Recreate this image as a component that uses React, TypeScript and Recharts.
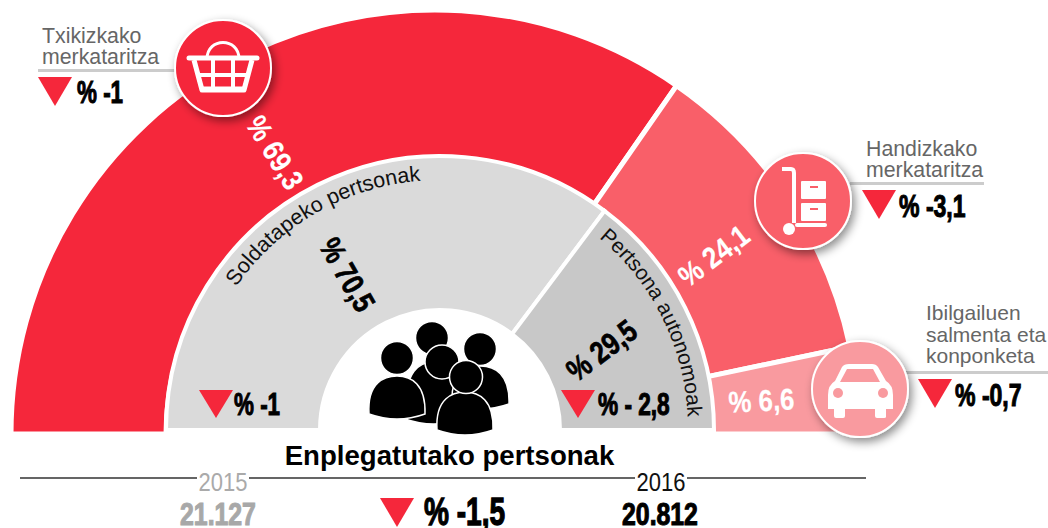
import { PieChart, Pie, Cell } from 'recharts';

const sectors = ['Txikizkako merkataritza', 'Handizkako merkataritza', 'Ibilgailuen salmenta eta konponketa'];
const sectorShares = [69.3, 24.1, 6.6];
const sectorColors = ['#f5273b', '#f95f69', '#f99a9f'];

const workers = ['Soldatapeko pertsonak', 'Pertsona autonomoak'];
const workerShares = [70.5, 29.5];
const workerColors = ['#dadada', '#c8c8c8'];

const outerData = sectors.map((name, i) => ({ name, value: sectorShares[i] }));
const innerData = workers.map((name, i) => ({ name, value: workerShares[i] }));

const SANS = '"Liberation Sans", Arial, sans-serif';
const RED = '#f5273b';

const pct = (v: number) => `% ${v.toString().replace('.', ',')}`;

// condensed heavy figures, the original uses an Impact-like face
function Figure({ x, y, text, size = 32, angle = 0, fill = '#000', anchor = 'start', sx = 0.72, weight = 1.1, bold = true }: any) {
  return (
    <text
      transform={`translate(${x} ${y}) rotate(${angle}) scale(${sx} 1)`}
      fontFamily={SANS}
      fontWeight={bold ? 700 : 400}
      fontSize={size}
      fill={fill}
      stroke={fill}
      strokeWidth={weight}
      textAnchor={anchor}
    >
      {text}
    </text>
  );
}

function Down({ x, y, w = 34, h = 29 }: any) {
  return <polygon points={`${x},${y} ${x + w},${y} ${x + w / 2},${y + h}`} fill={RED} />;
}

function Caption({ x, lines, y, step = 21.5, size = 21.3 }: any) {
  return (
    <text fontFamily={SANS} fontSize={size} fill="#666">
      {lines.map((l: string, i: number) => (
        <tspan key={l} x={x} y={y + i * step}>
          {l}
        </tspan>
      ))}
    </text>
  );
}

function Badge({ x, y, fill, children }: any) {
  return (
    <g>
      <circle cx={x} cy={y} r={48} fill={fill} stroke="#fff" strokeWidth={2} filter="url(#shadow)" />
      <g transform={`translate(${x} ${y})`}>{children}</g>
    </g>
  );
}

function Basket() {
  return (
    <g fill="none" stroke="#fff">
      <path d="M-16 -9 C-16 -31 16 -31 16 -9" strokeWidth={3} />
      <path d="M-34 -10 H34" strokeWidth={5} strokeLinecap="round" />
      <path d="M-29 -8 L-21 22 H21 L29 -8" strokeWidth={5} strokeLinejoin="round" fill="none" />
      <path d="M-26 7 H26 M-10 -8 V22 M10 -8 V22" strokeWidth={4} />
      <path d="M-21 21 H21" strokeWidth={5} />
    </g>
  );
}

function Dolly() {
  return (
    <g fill="#fff">
      <path d="M-21 -32 H-12 Q-9 -32 -9 -28 V22" fill="none" stroke="#fff" strokeWidth={4} />
      <circle cx={-14} cy={28} r={6} />
      <rect x={-8} y={22} width={32} height={4} rx={2} />
      <rect x={-2} y={-20} width={25} height={18} rx={1} />
      <rect x={-2} y={2} width={25} height={18} rx={1} />
      <rect x={7} y={-15} width={8} height={2} fill="#f95f69" />
      <rect x={7} y={7} width={8} height={2} fill="#f95f69" />
    </g>
  );
}

function Car() {
  return (
    <g>
      <path
        d="M-32 20 V6 Q-32 -4 -25 -8 L-18 -22 Q-16 -25 -11 -25 H12 Q16 -25 18 -22 L26 -8 Q33 -4 33 6 V20 H26 V28 Q26 29 24 29 H17 Q15 29 15 27 V20 H-15 V27 Q-15 29 -17 29 H-24 Q-26 29 -26 27 V20 Z"
        fill="#fff"
      />
      <path d="M-20 -7 L-13 -20 H13 L20 -7 Z" fill="#f99a9f" />
      <circle cx={-22} cy={4} r={5} fill="#f99a9f" />
      <circle cx={23} cy={4} r={5} fill="#f99a9f" />
    </g>
  );
}

function Person({ hx, hy, x0, x1, top, bottom }: any) {
  const mid = (x0 + x1) / 2;
  return (
    <g fill="#000" stroke="#fff" strokeWidth={1.5}>
      <path
        d={`M${x0} ${bottom - 6} C${x0 - 2} ${top + 6} ${mid - 12} ${top} ${mid} ${top} C${mid + 14} ${top} ${x1 + 1} ${top + 8} ${x1} ${bottom - 6} Q${mid} ${bottom + 4} ${x0} ${bottom - 6} Z`}
      />
      <circle cx={hx} cy={hy} r={16.5} />
    </g>
  );
}

export default function App() {
  return (
    <div style={{ position: 'absolute', left: 0, top: 0, width: 1048, height: 528, overflow: 'hidden', background: '#fff' }}>
      <PieChart width={1048} height={528} margin={{ top: 0, right: 0, bottom: 0, left: 0 }}>
        <Pie
          data={outerData}
          dataKey="value"
          cx={435}
          cy={434}
          startAngle={180}
          endAngle={0}
          innerRadius={269}
          outerRadius={424}
          stroke="#fff"
          strokeWidth={5}
          isAnimationActive={false}
        >
          {outerData.map((d, i) => (
            <Cell key={d.name} fill={sectorColors[i]} />
          ))}
        </Pie>
        <Pie
          data={innerData}
          dataKey="value"
          cx={440}
          cy={430}
          startAngle={180}
          endAngle={0}
          innerRadius={120}
          outerRadius={274}
          stroke="#fff"
          strokeWidth={4}
          isAnimationActive={false}
        >
          {innerData.map((d, i) => (
            <Cell key={d.name} fill={workerColors[i]} />
          ))}
        </Pie>
      </PieChart>

      <svg width={1048} height={528} style={{ position: 'absolute', left: 0, top: 0 }}>
        <defs>
          <filter id="shadow" x="-30%" y="-30%" width="170%" height="170%">
            <feDropShadow dx={3} dy={4} stdDeviation={5} floodColor="#000" floodOpacity={0.45} />
          </filter>
          <path id="arcLeft" d="M192 428 A248 248 0 0 1 688 428" fill="none" />
        </defs>

        {/* leader rules under the captions */}
        <rect x={38} y={69} width={140} height={3} fill="#ccc" />
        <rect x={850} y={182} width={134} height={3} fill="#ccc" />
        <rect x={900} y={371} width={148} height={3} fill="#ccc" />

        <Caption x={42} y={43} lines={['Txikizkako', 'merkataritza']} step={21} />
        <Caption x={866} y={156} lines={['Handizkako', 'merkataritza']} step={21} />
        <Caption x={926} y={320} lines={['Ibilgailuen', 'salmenta eta', 'konponketa']} size={21} />

        <Badge x={223} y={68} fill={sectorColors[0]}><Basket /></Badge>
        <Badge x={803} y={201} fill={sectorColors[1]}><Dolly /></Badge>
        <Badge x={860} y={389} fill={sectorColors[2]}><Car /></Badge>

        <Down x={38} y={77} />
        <Figure x={77} y={103} text="% -1" sx={0.7} />
        <Down x={862} y={190} />
        <Figure x={899} y={217} text="% -3,1" />
        <Down x={918} y={379} />
        <Figure x={955} y={406} text="% -0,7" />

        <Figure x={266} y={158} text={pct(sectorShares[0])} size={30} angle={58} fill="#fff" anchor="middle" sx={0.86} weight={0.2} />
        <Figure x={720} y={264} text={pct(sectorShares[1])} size={30} angle={-37} fill="#fff" anchor="middle" sx={0.86} weight={0.2} />
        <Figure x={762} y={411} text={pct(sectorShares[2])} size={30} angle={-3} fill="#fff" anchor="middle" sx={0.86} weight={0.2} />
        <Figure x={338} y={280} text={pct(workerShares[0])} size={31} angle={60} anchor="middle" sx={0.82} weight={0.7} />
        <Figure x={608} y={359} text={pct(workerShares[1])} size={31} angle={-37} anchor="middle" sx={0.82} weight={0.7} />

        <text fontFamily={SANS} fontSize={21.5} fill="#111">
          <textPath href="#arcLeft" startOffset={150}>{workers[0]}</textPath>
        </text>
        <text fontFamily={SANS} fontSize={21} fill="#111">
          <textPath href="#arcLeft" startOffset={562}>{workers[1]}</textPath>
        </text>

        <Down x={199} y={390} h={28} />
        <Figure x={234} y={415} text="% -1" sx={0.7} />
        <Down x={561} y={390} h={28} />
        <Figure x={598} y={415} text="% - 2,8" size={31} sx={0.73} />

        <Person hx={432} hy={338} x0={405} x1={462} top={362} bottom={425} />
        <Person hx={480} hy={349} x0={452} x1={509} top={366} bottom={410} />
        <Person hx={397} hy={358} x0={369} x1={425} top={376} bottom={420} />
        <circle cx={442} cy={362} r={17} fill="#000" stroke="#fff" strokeWidth={1.5} />
        <Person hx={466} hy={377} x0={437} x1={493} top={392} bottom={436} />

        <text x={449.5} y={465} fontFamily={SANS} fontWeight={700} fontSize={27.6} textAnchor="middle" fill="#000">
          Enplegatutako pertsonak
        </text>

        <path d="M20 478 H197 M249 478 H635 M687 478 H866" stroke="#333" strokeWidth={1.5} fill="none" />
        <Figure x={223} y={491} text="2015" size={25} fill="#aaa" anchor="middle" sx={0.88} weight={0} bold={false} />
        <Figure x={661} y={491} text="2016" size={25} fill="#111" anchor="middle" sx={0.88} weight={0} bold={false} />
        <Figure x={218} y={525} text="21.127" size={31} fill="#a8a8a8" anchor="middle" sx={0.8} />
        <Figure x={660} y={525} text="20.812" size={31} anchor="middle" sx={0.8} />
        <Down x={380} y={498} h={29} />
        <Figure x={424} y={525} text="% -1,5" size={39} sx={0.72} weight={1.3} />
      </svg>
    </div>
  );
}
